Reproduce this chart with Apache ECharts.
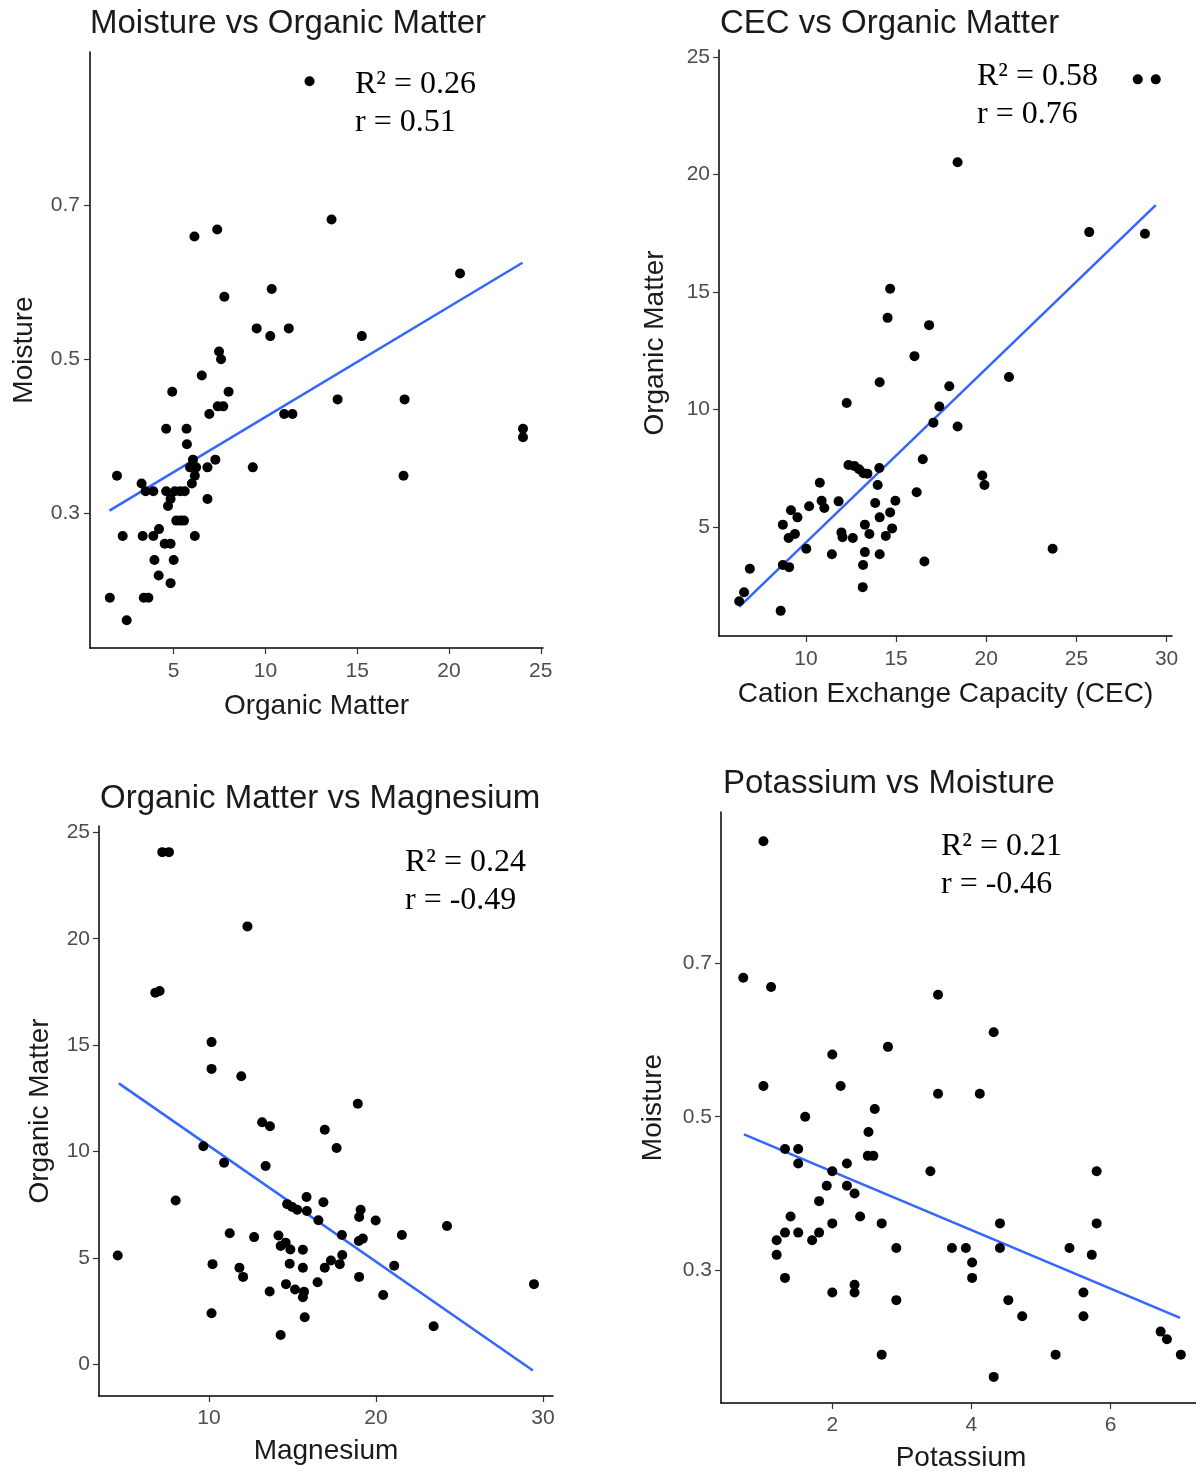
<!DOCTYPE html>
<html>
<head>
<meta charset="utf-8">
<title>Soil correlations</title>
<script src="https://cdn.jsdelivr.net/npm/echarts@6/dist/echarts.min.js"></script>
<style>
  html, body { margin: 0; padding: 0; background: #fff; }
  #container { width: 1196px; height: 1473px; }
</style>
</head>
<body>
<div id="container"></div>
<script>
// [organic matter, moisture]
const omMoisture = [
  [12.4,0.86],[13.6,0.681],[6.13,0.659],[7.37,0.668],[20.6,0.611],[10.34,0.591],[7.76,0.581],
  [9.52,0.54],[10.26,0.53],[11.27,0.54],[15.25,0.53],[7.47,0.51],[7.58,0.5],[6.53,0.479],
  [4.92,0.458],[7.99,0.458],[13.93,0.448],[17.58,0.448],[6.94,0.429],[7.4,0.439],[7.7,0.439],
  [11.02,0.429],[11.47,0.429],[4.59,0.41],[5.7,0.41],[5.72,0.39],[24.03,0.41],[24.03,0.399],
  [6.05,0.37],[7.27,0.37],[5.89,0.36],[6.22,0.36],[6.84,0.36],[9.31,0.36],[1.91,0.349],
  [17.52,0.349],[6.15,0.349],[3.25,0.339],[5.99,0.339],[3.47,0.329],[3.89,0.329],[4.59,0.329],
  [5.06,0.329],[5.35,0.329],[5.6,0.329],[4.83,0.319],[4.69,0.31],[6.84,0.319],[5.14,0.291],
  [5.37,0.291],[5.56,0.291],[2.22,0.271],[3.31,0.271],[3.89,0.271],[4.2,0.28],[6.15,0.271],
  [4.51,0.261],[4.83,0.261],[3.95,0.24],[5.0,0.24],[4.18,0.22],[4.83,0.21],[1.52,0.191],
  [3.37,0.191],[3.62,0.191],[2.44,0.162]
];
// [CEC, organic matter]
const cecOm = [
  [28.4,24.05],[29.4,24.05],[18.41,20.52],[25.71,17.55],[28.8,17.48],[14.67,15.14],[14.53,13.9],
  [16.83,13.59],[16.02,12.27],[14.09,11.16],[21.26,11.38],[17.95,10.99],[12.26,10.28],[17.4,10.13],
  [17.07,9.44],[18.41,9.28],[16.48,7.88],[12.36,7.64],[12.68,7.6],[12.95,7.46],[13.19,7.29],
  [13.41,7.27],[14.07,7.51],[10.77,6.88],[13.98,6.79],[19.78,7.19],[19.9,6.79],[16.14,6.48],
  [10.87,6.12],[11.02,5.81],[11.81,6.09],[13.84,6.02],[14.96,6.12],[10.18,5.88],[9.17,5.71],
  [9.53,5.41],[14.67,5.62],[14.09,5.41],[8.72,5.1],[13.27,5.1],[14.78,4.94],[9.04,4.53],
  [9.39,4.7],[11.97,4.77],[12.03,4.56],[12.6,4.53],[13.52,4.7],[14.43,4.62],[10.02,4.07],
  [11.44,3.84],[13.27,3.93],[14.09,3.84],[23.68,4.07],[16.57,3.53],[6.89,3.22],[8.72,3.38],
  [9.07,3.29],[13.17,3.38],[13.15,2.44],[6.57,2.22],[6.3,1.84],[8.6,1.43]
];
// [magnesium, organic matter]
const mgOm = [
  [7.2,24.07],[7.6,24.07],[12.3,20.58],[6.78,17.46],[7.04,17.54],[10.15,15.14],[10.15,13.88],
  [11.93,13.53],[18.91,12.24],[13.18,11.37],[13.65,11.18],[16.93,11.02],[17.64,10.16],[9.66,10.24],
  [10.9,9.47],[13.39,9.31],[8.0,7.69],[15.84,7.86],[16.85,7.61],[14.68,7.52],[14.98,7.39],
  [15.28,7.26],[15.86,7.2],[19.08,7.26],[18.99,6.92],[16.55,6.76],[19.98,6.75],[24.25,6.49],
  [11.24,6.15],[12.7,5.97],[14.16,6.05],[17.96,6.07],[21.55,6.07],[19.21,5.9],[18.97,5.79],
  [14.29,5.55],[14.59,5.71],[14.87,5.39],[15.62,5.38],[4.53,5.11],[17.98,5.13],[17.3,4.87],
  [17.83,4.7],[10.21,4.7],[14.83,4.72],[16.93,4.53],[15.62,4.53],[21.09,4.62],[11.82,4.53],
  [12.04,4.1],[18.99,4.1],[16.5,3.85],[14.61,3.76],[29.46,3.76],[20.43,3.25],[15.15,3.51],
  [15.69,3.4],[15.62,3.14],[13.63,3.41],[10.15,2.39],[15.73,2.2],[23.45,1.78],[14.29,1.37]
];
// [potassium, moisture]
const kMoisture = [
  [1.01,0.859],[0.72,0.681],[1.12,0.669],[3.52,0.659],[4.32,0.61],[2.8,0.591],[2.0,0.581],
  [1.01,0.54],[2.12,0.54],[3.52,0.53],[4.12,0.53],[2.61,0.51],[1.61,0.5],[2.52,0.48],
  [1.32,0.458],[1.51,0.458],[2.51,0.449],[2.59,0.449],[1.51,0.439],[2.21,0.439],[2.0,0.429],
  [3.41,0.429],[5.8,0.429],[1.92,0.41],[2.21,0.41],[2.32,0.4],[1.81,0.39],[1.4,0.37],
  [2.4,0.37],[2.0,0.361],[2.71,0.361],[4.41,0.361],[5.8,0.361],[1.32,0.349],[1.51,0.349],
  [1.81,0.349],[1.2,0.339],[1.71,0.339],[2.92,0.329],[3.72,0.329],[3.92,0.329],[4.41,0.329],
  [5.41,0.329],[1.2,0.32],[5.73,0.32],[4.01,0.31],[1.32,0.29],[4.01,0.29],[2.32,0.281],
  [2.32,0.271],[2.0,0.271],[5.61,0.271],[2.92,0.261],[4.53,0.261],[4.73,0.24],[5.61,0.24],
  [6.72,0.22],[6.81,0.21],[2.71,0.19],[5.21,0.19],[7.01,0.19],[4.32,0.161]
];

// fitted lines (end points as drawn)
const fitOmMoisture = [[1.5,0.304],[24.0,0.625]];
const fitCecOm = [[6.3,1.6],[29.4,18.7]];
const fitMgOm = [[4.6,13.2],[29.4,-0.3]];
const fitKMoisture = [[0.73,0.477],[7.0,0.238]];

// tick values
const ticksMoisture = [0.3, 0.5, 0.7];
const ticksOmX = [5, 10, 15, 20, 25];
const ticksOmY = [5, 10, 15, 20, 25];
const ticksCec = [10, 15, 20, 25, 30];
const ticksMgOmY = [0, 5, 10, 15, 20, 25];
const ticksMg = [10, 20, 30];
const ticksK = [2, 4, 6];

const titles = ['Moisture vs Organic Matter', 'CEC vs Organic Matter', 'Organic Matter vs Magnesium', 'Potassium vs Moisture'];
const stats = ['R\u00b2 = 0.26\nr = 0.51', 'R\u00b2 = 0.58\nr = 0.76', 'R\u00b2 = 0.24\nr = -0.49', 'R\u00b2 = 0.21\nr = -0.46'];

const sans = '"Liberation Sans", Arial, sans-serif';
const serif = '"Liberation Serif", "Times New Roman", serif';

function axis(idx, name, ticks, min, max, gap, labelMargin) {
  return {
    type: 'value',
    gridIndex: idx,
    name: name,
    nameLocation: 'middle',
    nameGap: gap,
    nameTextStyle: { fontFamily: sans, fontSize: 28, color: '#1a1a1a' },
    min: min,
    max: max,
    splitLine: { show: false },
    axisLine: { show: true, onZero: false, lineStyle: { color: '#000', width: 1.5 } },
    axisTick: { show: true, length: 6, customValues: ticks, lineStyle: { color: '#333', width: 1.2 } },
    axisLabel: { customValues: ticks, color: '#4d4d4d', fontFamily: sans, fontSize: 21, margin: labelMargin }
  };
}

function pts(idx, data) {
  return {
    type: 'scatter', xAxisIndex: idx, yAxisIndex: idx, data: data,
    symbolSize: 10, itemStyle: { color: '#000', opacity: 1 }, z: 3
  };
}

function fit(idx, data) {
  return {
    type: 'line', xAxisIndex: idx, yAxisIndex: idx, data: data,
    symbol: 'none', lineStyle: { color: '#3366ff', width: 2.5 }, z: 2
  };
}

const myChart = echarts.init(document.getElementById('container'), null, { renderer: 'canvas' });

const titlePos = [[90, 7], [720, 7], [100, 782], [723, 767]];
const statPos = [[355, 66], [977, 58], [405, 844], [941, 828]];

const option = {
  animation: false,
  backgroundColor: '#fff',
  title: titles.map((t, i) => ({
    text: t, left: titlePos[i][0], top: titlePos[i][1], padding: 0,
    textStyle: { fontFamily: sans, fontSize: 33, fontWeight: 'normal', color: '#1a1a1a' }
  })),
  grid: [
    { left: 90, top: 52, width: 453, height: 596, containLabel: false, outerBoundsMode: 'none' },
    { left: 719, top: 50, width: 453, height: 586, containLabel: false, outerBoundsMode: 'none' },
    { left: 99, top: 826, width: 454, height: 570, containLabel: false, outerBoundsMode: 'none' },
    { left: 721, top: 812, width: 480, height: 591, containLabel: false, outerBoundsMode: 'none' }
  ],
  xAxis: [
    axis(0, 'Organic Matter', ticksOmX, 0.44, 25.12, 44, 13),
    axis(1, 'Cation Exchange Capacity (CEC)', ticksCec, 5.18, 30.3, 44, 13),
    axis(2, 'Magnesium', ticksMg, 3.41, 30.6, 41, 12),
    axis(3, 'Potassium', ticksK, 0.4, 7.3, 41, 12)
  ],
  yAxis: [
    axis(0, 'Moisture', ticksMoisture, 0.126, 0.898, 52, 10),
    axis(1, 'Organic Matter', ticksOmY, 0.36, 25.3, 50, 9),
    axis(2, 'Organic Matter', ticksMgOmY, -1.5, 25.3, 45, 9),
    axis(3, 'Moisture', ticksMoisture, 0.127, 0.897, 54, 9)
  ],
  series: [
    fit(0, fitOmMoisture), pts(0, omMoisture),
    fit(1, fitCecOm), pts(1, cecOm),
    fit(2, fitMgOm), pts(2, mgOm),
    fit(3, fitKMoisture), pts(3, kMoisture)
  ],
  graphic: stats.map((s, i) => ({
    type: 'text', left: statPos[i][0], top: statPos[i][1], z: 10,
    style: { text: s, font: '32px ' + serif, lineHeight: 38, fill: '#000' }
  }))
};

myChart.setOption(option);
window.addEventListener('resize', myChart.resize);
</script>
</body>
</html>
